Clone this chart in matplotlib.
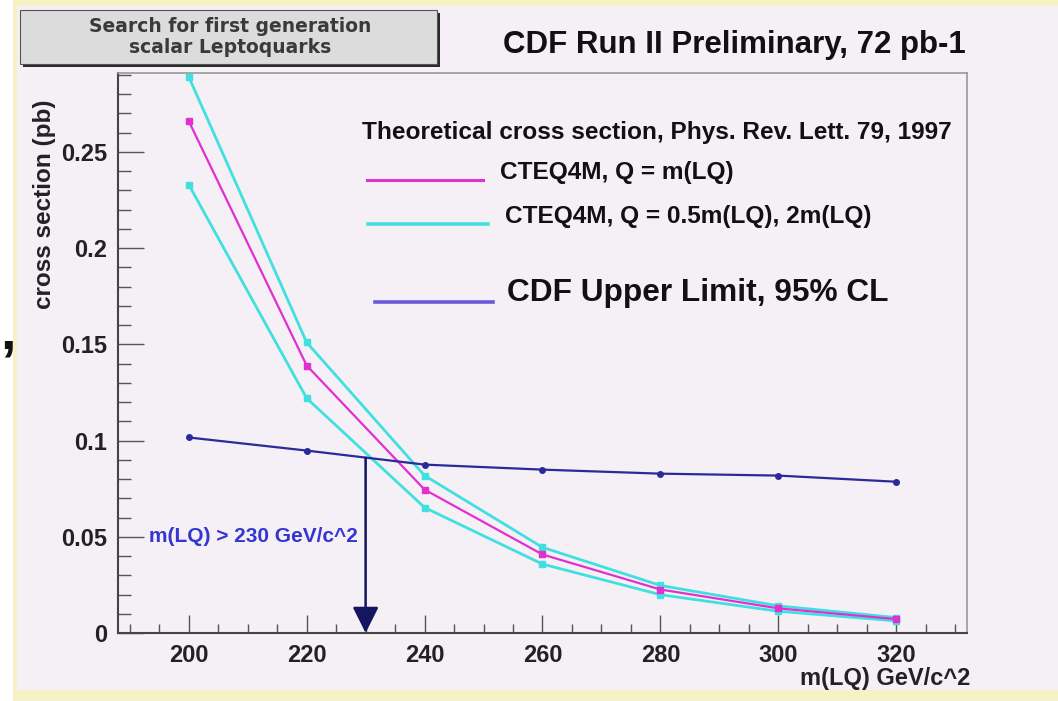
import matplotlib
matplotlib.use('Agg')
import matplotlib.pyplot as plt
from matplotlib.patches import Rectangle
from matplotlib.lines import Line2D

# leptoquark mass points (GeV/c^2)
mass = [200, 220, 240, 260, 280, 300, 320]
# theory, CTEQ4M Q = m(LQ)
xsec_central = [0.266, 0.139, 0.0745, 0.0408, 0.0226, 0.0128, 0.0072]
# theory, Q = 0.5 m(LQ) and 2 m(LQ)
xsec_high = [0.289, 0.151, 0.0818, 0.0445, 0.0247, 0.0141, 0.0080]
xsec_low = [0.233, 0.122, 0.0652, 0.0358, 0.0199, 0.0113, 0.0063]
# CDF 95% CL upper limit
xsec_limit = [0.1016, 0.0948, 0.0875, 0.0849, 0.0828, 0.0818, 0.0786]

cut_mass = 230
cut_xsec = 0.091

yticks = [0, 0.05, 0.1, 0.15, 0.2, 0.25]
ytick_labels = ['0', '0.05', '0.1', '0.15', '0.2', '0.25']
xticks = [200, 220, 240, 260, 280, 300, 320]

W, H = 1058, 701
bg = '#f4f0f5'
magenta = '#e030d0'
cyan = '#40e0e0'
navy = '#2a2a9a'
sans = 'Liberation Sans'


def fx(x):
    return x / W


def fy(y):
    return 1 - y / H


fig = plt.figure(figsize=(W / 100, H / 100), dpi=100)
fig.patch.set_facecolor('white')

# slide background with pale yellow border
fig.patches.append(Rectangle((fx(13), fy(701)), fx(1058 - 13), 1, transform=fig.transFigure,
                             facecolor='#f6f2c6', edgecolor='none', zorder=-3))
fig.patches.append(Rectangle((fx(17), fy(690)), fx(1058 - 17), (690 - 6) / H, transform=fig.transFigure,
                             facecolor=bg, edgecolor='none', zorder=-2))

ax = fig.add_axes([fx(118), fy(633), fx(967 - 118), (633 - 73) / H])
ax.set_facecolor(bg)

ax.plot(mass, xsec_high, color=cyan, lw=2, marker='s', ms=4.5, zorder=3)
ax.plot(mass, xsec_low, color=cyan, lw=2, marker='s', ms=4.5, zorder=3)
ax.plot(mass, xsec_central, color=magenta, lw=1.6, marker='s', ms=4.5, zorder=4)
ax.plot(mass, xsec_limit, color=navy, lw=1.6, marker='o', ms=4, zorder=5)

ax.annotate('', xy=(cut_mass, 0), xytext=(cut_mass, cut_xsec),
            arrowprops=dict(arrowstyle='-|>,head_length=1.0,head_width=0.5',
                            mutation_scale=16, color='#151560', lw=1.8,
                            shrinkA=0, shrinkB=0), zorder=6)
ax.text(228.7, 0.05, 'm(LQ) > 230 GeV/c^2', color='#3535d0', fontsize=15,
        fontweight='bold', family=sans, ha='right', va='center')

ax.set_xlim(188, 332)
ax.set_ylim(0, 0.291)
ax.set_xticks(xticks)
ax.set_xticks(range(190, 331, 5), minor=True)
ax.set_yticks(yticks)
ax.set_yticklabels(ytick_labels)
ax.set_yticks([i * 0.01 for i in range(0, 30)], minor=True)
ax.tick_params(axis='y', which='major', direction='in', length=19, width=1, color='#555555',
               labelsize=17, pad=8)
ax.tick_params(axis='y', which='minor', direction='in', length=9.5, width=1, color='#555555')
ax.tick_params(axis='x', which='major', direction='in', length=13, width=1, color='#555555',
               labelsize=17, pad=8)
ax.tick_params(axis='x', which='minor', direction='in', length=6.5, width=1, color='#555555')
for lab in ax.get_xticklabels() + ax.get_yticklabels():
    lab.set_fontweight('bold')
    lab.set_family(sans)
    lab.set_color('#222222')

for side in ['left', 'bottom']:
    ax.spines[side].set_color('#444444')
    ax.spines[side].set_linewidth(1.5)
for side in ['top', 'right']:
    ax.spines[side].set_color('#999999')
    ax.spines[side].set_linewidth(1.2)

fig.text(fx(45), fy(204), 'cross section (pb)', rotation=90, fontsize=17.5, fontweight='bold',
         family=sans, color='#222222', ha='center', va='center')
fig.text(fx(970), fy(678), 'm(LQ) GeV/c^2', fontsize=17, fontweight='bold', family=sans,
         color='#222222', ha='right', va='center')

# title box
fig.patches.append(Rectangle((fx(23), fy(67)), fx(440 - 23), (67 - 13) / H, transform=fig.transFigure,
                             facecolor='#2a2a2a', edgecolor='none', zorder=1))
fig.patches.append(Rectangle((fx(20), fy(64)), fx(437 - 20), (64 - 10) / H, transform=fig.transFigure,
                             facecolor='#dcdcdc', edgecolor='#555555', lw=0.8, zorder=2))
fig.text(fx(230), fy(37), 'Search for first generation\nscalar Leptoquarks', fontsize=13.5,
         fontweight='bold', family='DejaVu Sans', color='#3a3a3a', ha='center', va='center',
         linespacing=1.15, zorder=3)

fig.text(fx(966), fy(45), 'CDF Run II Preliminary, 72 pb-1', fontsize=22.5, fontweight='bold',
         family=sans, color='#111111', ha='right', va='center')

# legend
fig.text(fx(362), fy(133), 'Theoretical cross section, Phys. Rev. Lett. 79, 1997', fontsize=17.6,
         fontweight='bold', family=sans, color='#111111', ha='left', va='center')
fig.lines.append(Line2D([fx(367), fx(483)], [fy(180), fy(180)], transform=fig.transFigure,
                        color=magenta, lw=2.2))
fig.text(fx(500), fy(172), 'CTEQ4M, Q = m(LQ)', fontsize=17.6, fontweight='bold', family=sans,
         color='#111111', ha='left', va='center')
fig.lines.append(Line2D([fx(368), fx(488)], [fy(224), fy(224)], transform=fig.transFigure,
                        color=cyan, lw=2.6))
fig.text(fx(505), fy(216), 'CTEQ4M, Q = 0.5m(LQ), 2m(LQ)', fontsize=17.6, fontweight='bold',
         family=sans, color='#111111', ha='left', va='center')
fig.lines.append(Line2D([fx(375), fx(493)], [fy(302), fy(302)], transform=fig.transFigure,
                        color='#6a5ad8', lw=2.6))
fig.text(fx(507), fy(293), 'CDF Upper Limit, 95% CL', fontsize=22.8, fontweight='bold', family=sans,
         color='#111111', ha='left', va='center')

# stray mark at the slide edge
fig.text(fx(0), fy(335), ',', fontsize=40, fontweight='bold', family=sans, color='#111111',
         ha='left', va='center')

fig.savefig('out.png', dpi=100, facecolor=fig.get_facecolor())
